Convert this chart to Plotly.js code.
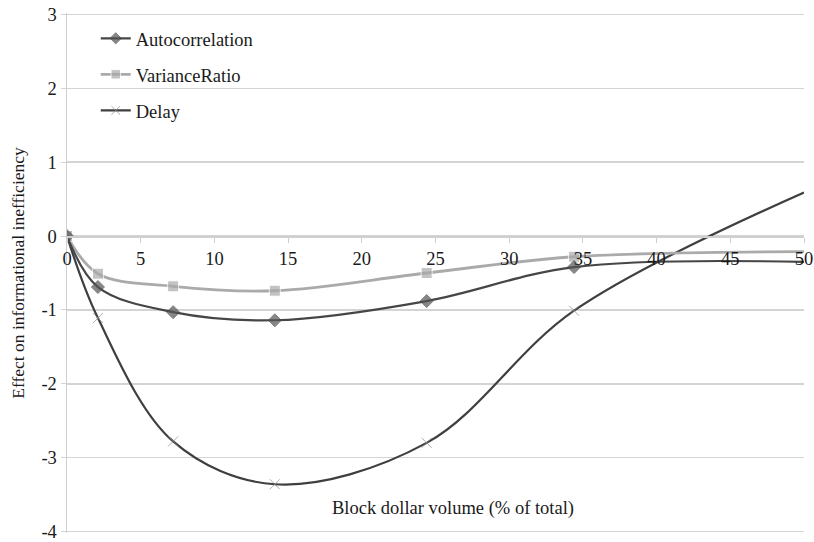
<!DOCTYPE html>
<html>
<head>
<meta charset="utf-8">
<script src="https://cdn.plot.ly/plotly-3.0.1.min.js"></script>
<style>html,body{margin:0;padding:0;background:#fff;}#chart{width:814px;height:542px;}</style>
</head>
<body>
<div id="chart"></div>
<script>
const blockVolume = [0, 2.1, 7.2, 14.1, 24.4, 34.4, 50];
const autocorrelation = [0, -0.69, -1.03, -1.14, -0.88, -0.42, -0.35];
const varianceRatio = [0, -0.51, -0.68, -0.74, -0.50, -0.28, -0.21];
const delay = [0, -1.11, -2.78, -3.36, -2.80, -1.01, 0.59];
const xTicks = [0, 5, 10, 15, 20, 25, 30, 35, 40, 45, 50];
const yTicks = [-4, -3, -2, -1, 0, 1, 2, 3];

const fam = 'Liberation Serif, Times New Roman, serif';
const txt = '#1a1a1a';
const fs = 18.5;
const yMin = -4.02, yMax = 3.02;
// the final point sits on the plot edge and shows no marker in the reference
const sizes = s => blockVolume.map((v, i) => i === blockVolume.length - 1 ? 0 : s);

const traces = [
  {x: blockVolume, y: delay, name: 'Delay', mode: 'lines+markers', legendgroup: 'c', legendrank: 3,
   line: {shape: 'spline', smoothing: 1, color: '#3f3f3f', width: 2.2},
   marker: {symbol: 'x-thin-open', size: sizes(10), color: '#8a8a8a', line: {color: '#8a8a8a', width: 1}}},
  {x: blockVolume, y: varianceRatio, name: 'VarianceRatio', mode: 'lines+markers', legendgroup: 'b', legendrank: 2,
   line: {shape: 'spline', smoothing: 1, color: '#aaaaaa', width: 2.8},
   marker: {symbol: 'square', size: sizes(11), color: '#aaaaaa'}},
  {x: blockVolume, y: autocorrelation, name: 'Autocorrelation', mode: 'lines+markers', legendgroup: 'a', legendrank: 1,
   line: {shape: 'spline', smoothing: 1, color: '#464646', width: 2.2},
   marker: {symbol: 'diamond', size: sizes(10), color: '#555555'}}
];

const layout = {
  width: 814, height: 542,
  margin: {l: 67, r: 10, t: 13, b: 9},
  paper_bgcolor: '#fff', plot_bgcolor: '#fff',
  font: {family: fam, size: fs, color: txt},
  showlegend: true,
  legend: {x: 0.039, y: 0.987, xanchor: 'left', yanchor: 'top', bgcolor: 'rgba(0,0,0,0)',
    font: {family: fam, size: fs, color: txt}, traceorder: 'grouped', tracegroupgap: 9},
  xaxis: {
    range: [0, 50], tickvals: xTicks, ticktext: xTicks.map(String),
    anchor: 'free', position: (0 - yMin) / (yMax - yMin),
    showgrid: false, zeroline: false, showline: true, linecolor: '#cfcfcf', linewidth: 1.5,
    ticks: 'outside', ticklen: 5, tickcolor: '#cfcfcf', tickfont: {family: fam, size: fs, color: txt},
    ticklabeloverflow: 'allow'
  },
  yaxis: {
    range: [yMin, yMax], tickvals: yTicks, ticktext: yTicks.map(String),
    showgrid: true, gridcolor: '#d4d4d4', gridwidth: 1.5, zeroline: false,
    showline: true, linecolor: '#cfcfcf', linewidth: 1.5,
    ticks: 'outside', ticklen: 5, tickcolor: '#d4d4d4',
    tickfont: {family: fam, size: fs, color: txt},
    ticklabeloverflow: 'allow',
    title: {text: 'Effect on informational inefficiency', font: {family: fam, size: 17.5, color: txt}, standoff: 12}
  },
  annotations: [
    {text: 'Block dollar volume (% of total)', xref: 'paper', yref: 'paper', x: 0.524, y: 0.047,
     showarrow: false, xanchor: 'center', yanchor: 'middle', font: {family: fam, size: fs, color: txt}}
  ]
};

Plotly.newPlot('chart', traces, layout, {displayModeBar: false, staticPlot: true});
</script>
</body>
</html>
